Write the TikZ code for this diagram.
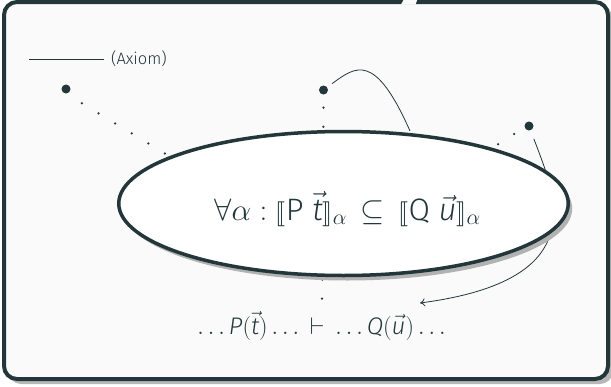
\documentclass[tikz,border=0pt]{standalone}
\usepackage{fix-cm}
\usepackage{amsmath}
\usepackage{stmaryrd}
\usepackage{fontspec}
\setmainfont{Fira Sans Light}[ItalicFont={Fira Sans Light Italic}]
\usetikzlibrary{shapes.geometric,shadows,arrows.meta}
\definecolor{mdark}{HTML}{23373B}
\definecolor{bgc}{HTML}{FAFAFA}
\newcommand{\itv}[1]{\vec{\text{\itshape #1}}}
\begin{document}
\begin{tikzpicture}[x=1pt,y=-1pt,
  bigdot/.style={circle, fill=mdark, inner sep=0pt, minimum size=9pt},
  dotline/.style={mdark, line width=2.5pt, line cap=round, dash pattern=on 0pt off #1},
  dotline/.default=19pt,
  conn/.style={mdark, line width=0.8pt},
  txt/.style={text=mdark, inner sep=0pt},
]
\useasboundingbox (0,0) rectangle (611,386);
\fill[white] (0,0) rectangle (611,386);
% frame with shadow
\fill[black!28, rounded corners=13pt] (8,6) rectangle (613,384);
\draw[mdark, line width=4pt, fill=bgc, rounded corners=13pt] (4,2) rectangle (608,379);
\fill[bgc] (404,-1) -- (417.5,-1) -- (415.5,4.6) -- (401,4.6) -- cycle;

% axiom label
\coordinate (axl) at (29,59);
\node[txt, anchor=west, font=\fontsize{16.5}{18}\selectfont] (ax) at (111,59) {(Axiom)};
\draw[mdark, line width=1pt] (axl) -- ([xshift=-7pt]ax.west);

% dots
\node[bigdot] (a1) at (66,89) {};
\node[bigdot] (a2) at (323.5,90) {};
\node[bigdot] (a3) at (529,126) {};
\coordinate (h1) at (232,194);
\coordinate (h3) at (450,175);
\coordinate (h2) at (322,301);
\coordinate (c1) at (410,131);
\coordinate (tgt) at (420,303);

\draw[dotline=19.4pt, shorten <=18.6pt] (a1.south) -- (h1);
\draw[dotline=19.1pt] ([yshift=-17.7pt]a2.center) -- (h2);
\draw[dotline=18.9pt] ([xshift=-15pt,yshift=-8pt]a3.center) -- (h3);

% connectors
\draw[conn, shorten <=6pt] (a2) .. controls (356,66) and (375,52) .. (c1);
\draw[conn, shorten <=9pt, -{To[length=5pt,width=8pt]}] (a3) .. controls (555,195) and (595,280) .. (tgt);

% ellipse
\node[ellipse, minimum width=449.5pt, minimum height=144pt, draw=mdark, line width=3.5pt, fill=white,
  drop shadow={shadow xshift=4pt, shadow yshift=-5pt, fill=black!30, opacity=1}] (el) at (343.5,203.5) {};
\node[txt, anchor=base, font=\fontsize{31}{35}\selectfont] (formula) at (347.5,220)
  {$\forall\alpha : \llbracket\text{P}\;\itv{t}\rrbracket_{\alpha}\,\subseteq\,\llbracket\text{Q}\;\itv{u}\rrbracket_{\alpha}$};

% sequent
\node[txt, anchor=base, font=\fontsize{24}{28}\selectfont] (seq) at (321.5,334)
  {$\ldots\text{\itshape P}(\itv{t})\ldots\,\vdash\,\ldots\text{\itshape Q}(\itv{u})\ldots$};
\end{tikzpicture}
\end{document}
